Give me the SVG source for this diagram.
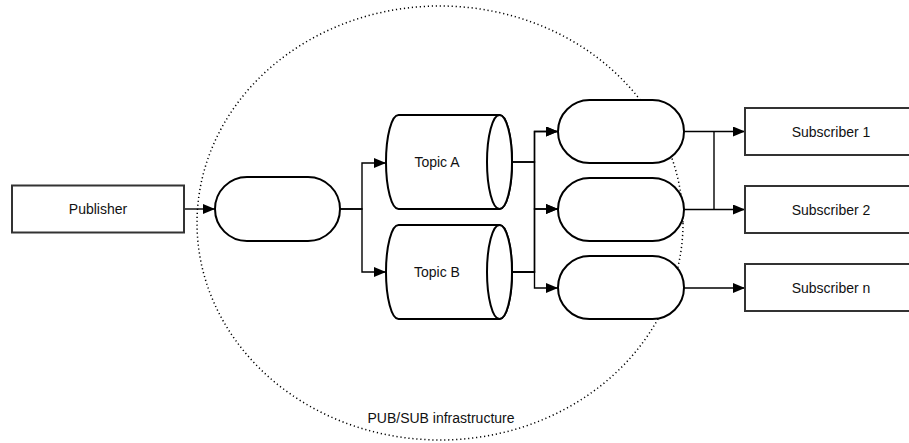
<svg xmlns="http://www.w3.org/2000/svg" width="909" height="443" viewBox="0 0 909 443">
  <defs>
    <marker id="arrow" viewBox="0 0 12 10" refX="12" refY="5" markerWidth="12" markerHeight="10" markerUnits="userSpaceOnUse" orient="auto">
      <path d="M0,0 L12,5 L0,10 Z" fill="#000"/>
    </marker>
  </defs>
  <style>
    .box { fill: #fff; stroke: #333; stroke-width: 2; }
    .pill { fill: #fff; stroke: #000; stroke-width: 2; }
    .cyl { fill: #fff; stroke: #000; stroke-width: 2; }
    .edge { fill: none; stroke: #000; stroke-width: 1.4; marker-end: url(#arrow); }
    .line { fill: none; stroke: #000; stroke-width: 1.4; }
    .label { font-family: "Liberation Sans", Arial, sans-serif; font-size: 14px; fill: #111; text-anchor: middle; dominant-baseline: central; }
    .boundary { fill: none; stroke: #000; stroke-width: 1.5; stroke-dasharray: 1.2 2.8; }
  </style>
  <rect width="909" height="443" fill="#fff"/>

  <!-- infrastructure boundary -->
  <g id="infrastructure">
    <ellipse class="boundary" cx="440" cy="223" rx="243" ry="217"/>
    <text class="label" x="441" y="418">PUB/SUB infrastructure</text>
  </g>

  <!-- connectors -->
  <g id="connectors">
    <path class="edge" d="M184,209 H215"/>
    <path class="edge" d="M340,209 H362 V163 H386"/>
    <path class="edge" d="M340,209 H362 V272 H386"/>
    <path class="edge" d="M512,162 H534.5 V131.5 H558"/>
    <path class="edge" d="M512,162 H534.5 V209 H558"/>
    <path class="edge" d="M512,272 H534.5 V131.5 H558"/>
    <path class="edge" d="M512,272 H534.5 V209 H558"/>
    <path class="edge" d="M512,272 H534.5 V288 H558"/>
    <path class="edge" d="M684,131.5 H745"/>
    <path class="edge" d="M684,209.5 H745"/>
    <path class="line" d="M714,131.5 V209.5"/>
    <path class="edge" d="M684,288 H745"/>
  </g>

  <g id="publisher">
    <rect class="box" x="12" y="185.5" width="172" height="47"/>
    <text class="label" x="98" y="209">Publisher</text>
  </g>

  <g id="ingress">
    <rect class="pill" x="215" y="177" width="125" height="64" rx="32" ry="32"/>
  </g>

  <g id="topic-a">
    <path class="cyl" d="M398.5,115 H499.5 A12.5,47 0 0 1 499.5,209 H398.5 A12.5,47 0 0 1 398.5,115 Z"/>
    <ellipse class="cyl" cx="499.5" cy="162" rx="12.5" ry="47"/>
    <text class="label" x="437" y="162">Topic A</text>
  </g>

  <g id="topic-b">
    <path class="cyl" d="M398.5,225 H499.5 A12.5,47 0 0 1 499.5,319 H398.5 A12.5,47 0 0 1 398.5,225 Z"/>
    <ellipse class="cyl" cx="499.5" cy="272" rx="12.5" ry="47"/>
    <text class="label" x="437" y="272">Topic B</text>
  </g>

  <g id="subscription-1">
    <rect class="pill" x="558" y="100" width="126" height="63" rx="31.5" ry="31.5"/>
  </g>
  <g id="subscription-2">
    <rect class="pill" x="558" y="178" width="126" height="63" rx="31.5" ry="31.5"/>
  </g>
  <g id="subscription-n">
    <rect class="pill" x="558" y="256" width="126" height="63" rx="31.5" ry="31.5"/>
  </g>

  <g id="subscriber-1">
    <rect class="box" x="745" y="108" width="172" height="47"/>
    <text class="label" x="831" y="131.5">Subscriber 1</text>
  </g>
  <g id="subscriber-2">
    <rect class="box" x="745" y="186" width="172" height="47"/>
    <text class="label" x="831" y="209.5">Subscriber 2</text>
  </g>
  <g id="subscriber-n">
    <rect class="box" x="745" y="264" width="172" height="47"/>
    <text class="label" x="831" y="287.5">Subscriber n</text>
  </g>
</svg>
